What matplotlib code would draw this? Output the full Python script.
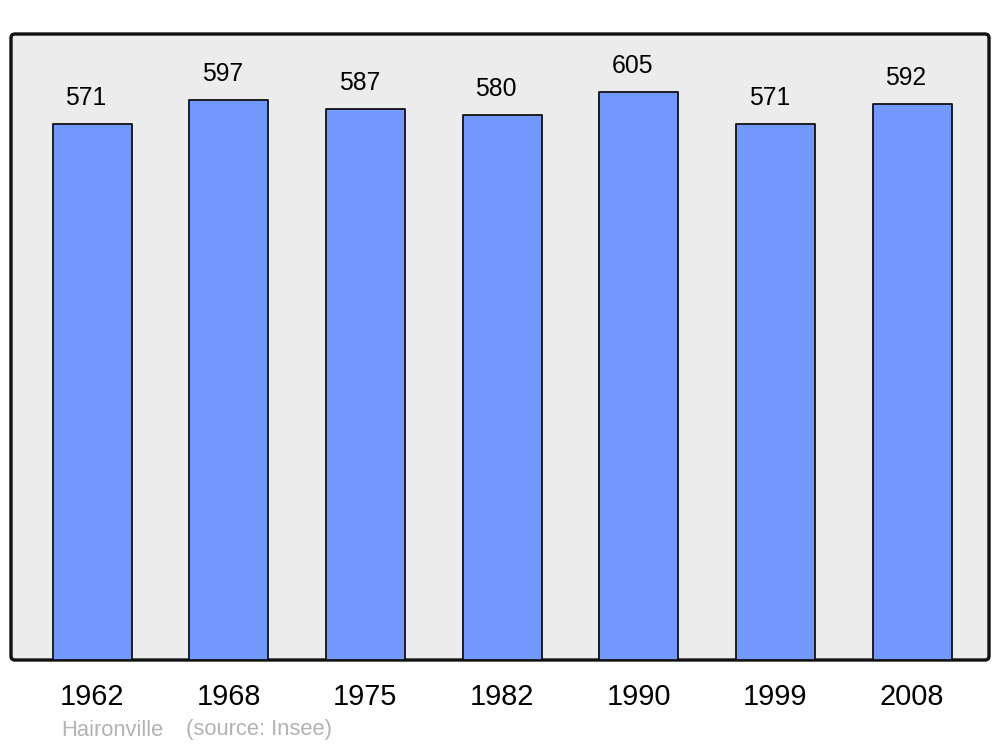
import matplotlib
matplotlib.use("Agg")
import matplotlib.pyplot as plt
from matplotlib.patches import FancyBboxPatch

years = ["1962", "1968", "1975", "1982", "1990", "1999", "2008"]
population = [571, 597, 587, 580, 605, 571, 592]
town = "Haironville"
source = "(source: Insee)"

plt.rcParams['font.family'] = ['Liberation Sans', 'DejaVu Sans']

fig = plt.figure(figsize=(10, 7.47), dpi=100)
ax = fig.add_axes([0.011, 87/747, 0.978, 626/747])
ax.patch.set_visible(False)
for s in ax.spines.values():
    s.set_visible(False)

panel = FancyBboxPatch((0, 0), 1, 1, boxstyle="round,pad=0,rounding_size=0.004",
                       mutation_aspect=1.56, transform=ax.transAxes,
                       facecolor="#ececec", edgecolor="#111111", linewidth=2.4,
                       zorder=0, clip_on=False)
ax.add_patch(panel)

x = list(range(len(years)))
bars = ax.bar(x, population, width=0.578, color="#7399ff", edgecolor="#111111",
              linewidth=1.3, zorder=2)
for b in bars:
    b.set_joinstyle("round")

ax.set_xlim(-0.593, 6.563)
ax.set_ylim(0, 666.8)

for xi, v in zip(x, population):
    ax.annotate(str(v), (xi, v), xytext=(-6, 26), textcoords="offset pixels",
                ha="center", va="center", fontsize=17.8, color="black")

ax.set_xticks(x)
ax.set_xticklabels(years, fontsize=20.8)
ax.tick_params(axis="x", length=0, pad=16.5)
ax.set_yticks([])

fig.text(61/1000, 1 - 730/747, town, fontsize=15.8, color="#b3b3b3", va="center", ha="left")
fig.text(186/1000, 1 - 730/747, source, fontsize=15.8, color="#b3b3b3", va="center", ha="left")

fig.savefig("out.png", dpi=100)
